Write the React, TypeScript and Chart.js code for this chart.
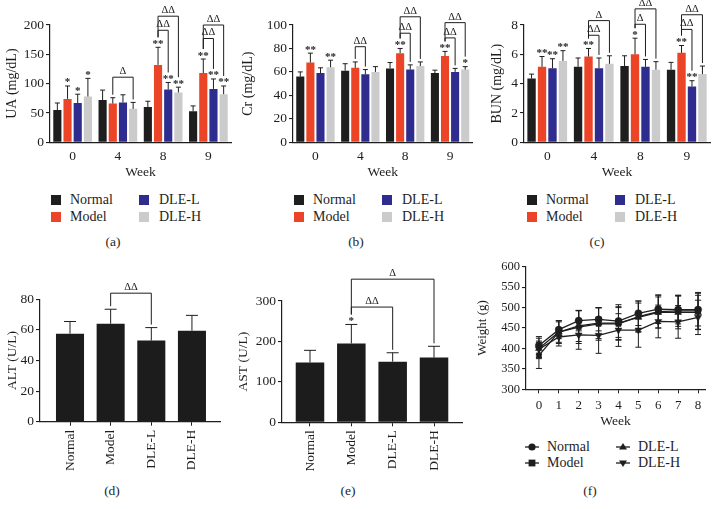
import React, { useEffect, useRef } from 'react';
import { Chart, registerables } from 'chart.js';

Chart.register(...registerables);

const FONT = '"Liberation Serif", "DejaVu Serif", "Times New Roman", serif';
const INK = '#1e1e1e';

// ---------- shared ----------
const SERIES = ['Normal', 'Model', 'DLE-L', 'DLE-H'];
const SERIES_COLORS = ['#1e1e1e', '#ec4427', '#2e2c8e', '#cbcbcb'];
const WEEK_LABELS = ['0', '4', '8', '9'];

// ---------- (a) UA ----------
const UA_NORMAL = [55, 72, 60, 53];
const UA_MODEL = [74, 66, 132, 118];
const UA_DLEL = [67, 68, 90, 91];
const UA_DLEH = [78, 57, 85, 82];
const UA_NORMAL_SD = [12, 17, 10, 9];
const UA_MODEL_SD = [22, 10, 30, 24];
const UA_DLEL_SD = [15, 13, 12, 17];
const UA_DLEH_SD = [31, 11, 9, 14];
const UA_STARS = [
  ['', '', '', ''],
  ['*', '', '**', '**'],
  ['*', '', '**', '**'],
  ['*', '', '**', '**'],
];
const UA_BRACKETS = [
  { from: [1, 1], to: [3, 1], level: 111, label: 'Δ' },
  { from: [1, 2], to: [2, 2], level: 191, label: 'ΔΔ' },
  { from: [1, 2], to: [3, 2], level: 215, label: 'ΔΔ' },
  { from: [1, 3], to: [2, 3], level: 177, label: 'ΔΔ' },
  { from: [1, 3], to: [3, 3], level: 200, label: 'ΔΔ' },
];

// ---------- (b) Cr ----------
const CR_NORMAL = [56, 61, 63, 59];
const CR_MODEL = [68, 63.5, 76, 73.5];
const CR_DLEL = [59, 58, 62, 60];
const CR_DLEH = [64, 60, 65, 62];
const CR_NORMAL_SD = [4, 6, 5, 2.5];
const CR_MODEL_SD = [8, 5, 4, 4];
const CR_DLEL_SD = [4.5, 4, 4, 3];
const CR_DLEH_SD = [6, 4.5, 3.5, 2.5];
const CR_STARS = [
  ['', '', '', ''],
  ['**', '', '**', '**'],
  ['', '', '', ''],
  ['**', '', '', '*'],
];
const CR_BRACKETS = [
  { from: [1, 1], to: [2, 1], level: 81.5, label: 'ΔΔ' },
  { from: [1, 2], to: [2, 2], level: 93, label: 'ΔΔ' },
  { from: [1, 2], to: [3, 2], level: 107, label: 'ΔΔ' },
  { from: [1, 3], to: [2, 3], level: 89, label: 'ΔΔ' },
  { from: [1, 3], to: [3, 3], level: 102, label: 'ΔΔ' },
];

// ---------- (c) BUN ----------
const BUN_NORMAL = [4.35, 5.15, 5.2, 4.95];
const BUN_MODEL = [5.15, 5.85, 6.0, 6.1];
const BUN_DLEL = [5.05, 5.05, 5.15, 3.8];
const BUN_DLEH = [5.55, 5.35, 4.95, 4.65];
const BUN_NORMAL_SD = [0.3, 0.6, 0.7, 0.5];
const BUN_MODEL_SD = [0.7, 0.55, 1.1, 0.5];
const BUN_DLEL_SD = [0.65, 0.7, 0.5, 0.4];
const BUN_DLEH_SD = [0.7, 0.55, 0.55, 0.55];
const BUN_STARS = [
  ['', '', '', ''],
  ['**', '**', '*', '**'],
  ['**', '', '', '**'],
  ['**', '', '', ''],
];
const BUN_BRACKETS = [
  { from: [1, 1], to: [2, 1], level: 7.3, label: 'ΔΔ' },
  { from: [1, 1], to: [3, 1], level: 8.3, label: 'Δ' },
  { from: [1, 2], to: [2, 2], level: 8.05, label: 'Δ' },
  { from: [1, 2], to: [3, 2], level: 9.1, label: 'ΔΔ' },
  { from: [1, 3], to: [2, 3], level: 7.7, label: 'ΔΔ' },
  { from: [1, 3], to: [3, 3], level: 8.7, label: 'ΔΔ' },
];

// ---------- (d) ALT, (e) AST ----------
const GROUP_POS = [0, 1, 2, 3];
const ALT_MEAN = [57.5, 64, 53, 59.5];
const ALT_SD = [8, 9.5, 8.5, 10];
const ALT_STARS = [['', '', '', '']];
const ALT_BRACKETS = [{ from: [0, 1], to: [0, 2], level: 84, label: 'ΔΔ' }];

const AST_MEAN = [148, 195, 150, 160];
const AST_SD = [30, 47, 22, 28];
const AST_STARS = [['', '*', '', '']];
const AST_BRACKETS = [
  { from: [0, 1], to: [0, 2], level: 285, label: 'ΔΔ' },
  { from: [0, 1], to: [0, 3], level: 354, label: 'Δ' },
];

// ---------- (f) Weight ----------
const WEEKS = [0, 1, 2, 3, 4, 5, 6, 7, 8];
const W_NORMAL = [407, 446, 468, 471, 467, 486, 496, 495, 495];
const W_MODEL = [383, 440, 452, 460, 460, 478, 490, 492, 492];
const W_DLEL = [400, 440, 455, 462, 462, 476, 488, 488, 488];
const W_DLEH = [398, 428, 433, 432, 445, 445, 466, 465, 476];
const W_NORMAL_SD = [22, 22, 25, 28, 40, 30, 35, 35, 40];
const W_MODEL_SD = [32, 28, 40, 40, 40, 38, 40, 38, 45];
const W_DLEL_SD = [25, 25, 38, 38, 40, 35, 38, 40, 42];
const W_DLEH_SD = [20, 22, 35, 44, 40, 42, 40, 40, 42];

// ---------- annotation plugin (error bars, stars, brackets) ----------
function makeAnnot(cfg: any) {
  return {
    id: 'annot',
    afterDatasetsDraw(chart: any) {
      const { ctx } = chart;
      const ys = chart.scales.y;
      const val = (di: number, i: number) => {
        const d = chart.data.datasets[di].data[i];
        return typeof d === 'number' ? d : d.y;
      };
      const el = (di: number, i: number) => chart.getDatasetMeta(di).data[i];
      const topPx = (di: number, i: number) => ys.getPixelForValue(val(di, i) + cfg.sd[di][i]);
      const hasStar = (di: number, i: number) => !!(cfg.stars && cfg.stars[di] && cfg.stars[di][i]);
      ctx.save();
      // error bars
      ctx.lineWidth = cfg.errWidth || 1;
      ctx.strokeStyle = cfg.errColor || INK;
      cfg.sd.forEach((arr: number[], di: number) => {
        arr.forEach((s: number, i: number) => {
          const e = el(di, i);
          if (!e) return;
          const x = e.x;
          const m = val(di, i);
          const t = ys.getPixelForValue(m + s);
          const b = ys.getPixelForValue(cfg.twoSided ? m - s : m);
          const c = cfg.cap / 2;
          ctx.beginPath();
          ctx.moveTo(x, b);
          ctx.lineTo(x, t);
          ctx.moveTo(x - c, t);
          ctx.lineTo(x + c, t);
          if (cfg.twoSided) {
            ctx.moveTo(x - c, b);
            ctx.lineTo(x + c, b);
          }
          ctx.stroke();
        });
      });
      // stars
      ctx.fillStyle = INK;
      ctx.textAlign = 'center';
      if (cfg.stars) {
        ctx.font = `bold ${cfg.starSize || 11}px ${FONT}`;
        ctx.textBaseline = 'alphabetic';
        cfg.stars.forEach((arr: string[], di: number) => {
          arr.forEach((s: string, i: number) => {
            if (!s) return;
            ctx.fillText(s, el(di, i).x, topPx(di, i) - 0.5);
          });
        });
      }
      // brackets
      ctx.lineWidth = 1;
      ctx.strokeStyle = INK;
      ctx.font = `${cfg.deltaSize || 10.5}px ${FONT}`;
      ctx.textBaseline = 'bottom';
      (cfg.brackets || []).forEach((br: any) => {
        const [d1, i1] = br.from;
        const [d2, i2] = br.to;
        const x1 = el(d1, i1).x;
        const x2 = el(d2, i2).x;
        const yT = ys.getPixelForValue(br.level);
        const leg = (di: number, i: number) => topPx(di, i) - (hasStar(di, i) ? 10 : 3);
        ctx.beginPath();
        ctx.moveTo(x1, leg(d1, i1));
        ctx.lineTo(x1, yT);
        ctx.lineTo(x2, yT);
        ctx.lineTo(x2, leg(d2, i2));
        ctx.stroke();
        ctx.fillText(br.label, (x1 + x2) / 2, yT - 0.5);
      });
      ctx.restore();
    },
  };
}

const tickFont = (size: number) => ({ family: FONT, size });

function yAxis(p: any) {
  return {
    min: p.min,
    max: p.max,
    ticks: { stepSize: p.step, color: INK, font: tickFont(p.tickSize || 13), padding: 2 },
    grid: { drawOnChartArea: false, drawTicks: true, tickLength: 4, color: INK, lineWidth: 1.1 },
    border: { display: true, color: INK, width: 1.2 },
    title: { display: true, text: p.title, color: INK, font: tickFont(p.titleSize || 14), padding: { top: 4, bottom: 4 } },
    afterFit: (s: any) => {
      s.width = p.width;
    },
  };
}

function groupedBarConfig(p: any) {
  return {
    type: 'bar',
    data: {
      labels: WEEK_LABELS,
      datasets: p.means.map((m: number[], k: number) => ({
        label: SERIES[k],
        data: m,
        backgroundColor: SERIES_COLORS[k],
        borderWidth: 0,
        categoryPercentage: 0.9,
        barPercentage: 0.8,
      })),
    },
    options: {
      responsive: false,
      animation: false,
      layout: { padding: { top: 25, right: p.padRight, left: 0, bottom: 0 } },
      plugins: { legend: { display: false }, tooltip: { enabled: false } },
      scales: {
        x: {
          grid: { display: false, drawTicks: false },
          border: { display: true, color: INK, width: 1.2 },
          ticks: { color: INK, font: tickFont(13.5), padding: 6 },
          title: { display: true, text: 'Week', color: INK, font: tickFont(13.5), padding: { top: 0, bottom: 4 } },
          afterFit: (s: any) => {
            s.height = 42.7;
          },
        },
        y: yAxis({ min: 0, max: p.max, step: p.step, title: p.title, width: p.yWidth, tickSize: 13.5 }),
      },
    },
    plugins: [makeAnnot({ sd: p.sds, stars: p.stars, brackets: p.brackets, cap: 5, twoSided: false, starSize: 11 })],
  };
}

function singleBarConfig(p: any) {
  return {
    type: 'bar',
    data: {
      datasets: [
        {
          data: GROUP_POS.map((x, i) => ({ x, y: p.mean[i] })),
          backgroundColor: '#1c1c1c',
          borderColor: '#111',
          borderWidth: 0,
          categoryPercentage: 1,
          barPercentage: 0.69,
        },
      ],
    },
    options: {
      responsive: false,
      animation: false,
      layout: { padding: { top: p.padTop, right: p.padRight, left: 0, bottom: 0 } },
      plugins: { legend: { display: false }, tooltip: { enabled: false } },
      scales: {
        x: {
          type: 'linear',
          offset: false,
          min: p.xMin,
          max: p.xMax,
          afterBuildTicks: (s: any) => {
            s.ticks = GROUP_POS.map((v) => ({ value: v }));
          },
          ticks: {
            autoSkip: false,
            minRotation: 90,
            maxRotation: 90,
            color: INK,
            font: tickFont(13.5),
            padding: 4,
            callback: (v: any) => SERIES[v] ?? '',
          },
          grid: { display: true, drawOnChartArea: false, drawTicks: true, tickLength: 4, color: INK, offset: false },
          border: { display: true, color: INK, width: 1.2 },
          afterFit: (s: any) => {
            s.height = p.xHeight;
          },
        },
        y: yAxis({ min: 0, max: p.max, step: p.step, title: p.title, width: p.yWidth, titleSize: 13.5, tickSize: 13.5 }),
      },
    },
    plugins: [
      makeAnnot({ sd: [p.sd], stars: p.stars, brackets: p.brackets, cap: 12, twoSided: false, starSize: 11 }),
    ],
  };
}

const W_SERIES = [
  { name: 'Normal', mean: W_NORMAL, sd: W_NORMAL_SD, style: 'circle', rot: 0, r: 3.6 },
  { name: 'Model', mean: W_MODEL, sd: W_MODEL_SD, style: 'rect', rot: 0, r: 3.6 },
  { name: 'DLE-L', mean: W_DLEL, sd: W_DLEL_SD, style: 'triangle', rot: 0, r: 4 },
  { name: 'DLE-H', mean: W_DLEH, sd: W_DLEH_SD, style: 'triangle', rot: 180, r: 4 },
];

function weightConfig() {
  return {
    type: 'line',
    data: {
      datasets: W_SERIES.map((s) => ({
        label: s.name,
        data: WEEKS.map((w, i) => ({ x: w, y: s.mean[i] })),
        borderColor: INK,
        borderWidth: 1.3,
        backgroundColor: INK,
        pointStyle: s.style,
        pointRotation: s.rot,
        pointRadius: s.r,
        pointBackgroundColor: INK,
        pointBorderColor: INK,
        pointBorderWidth: 0.5,
        tension: 0,
        fill: false,
      })),
    },
    options: {
      responsive: false,
      animation: false,
      layout: { padding: { top: 11.7, right: 7, left: 0, bottom: 0 } },
      plugins: { legend: { display: false }, tooltip: { enabled: false } },
      scales: {
        x: {
          type: 'linear',
          min: -0.65,
          max: 8.35,
          afterBuildTicks: (s: any) => {
            s.ticks = WEEKS.map((v) => ({ value: v }));
          },
          ticks: { color: INK, font: tickFont(13), padding: 4, autoSkip: false, maxRotation: 0 },
          grid: { display: true, drawOnChartArea: false, drawTicks: true, tickLength: 4, color: INK },
          border: { display: true, color: INK, width: 1.2 },
          title: { display: true, text: 'Week', color: INK, font: tickFont(13.5), padding: { top: 0, bottom: 0 } },
          afterFit: (s: any) => {
            s.height = 40.7;
          },
        },
        y: yAxis({ min: 300, max: 600, step: 50, title: 'Weight (g)', width: 55, tickSize: 12.5, titleSize: 13 }),
      },
    },
    plugins: [makeAnnot({ sd: W_SERIES.map((s) => s.sd), stars: null, brackets: [], cap: 6, twoSided: true })],
  };
}

// ---------- React pieces ----------
function ChartBox({ left, top, width, height, make }: any) {
  const ref = useRef<HTMLCanvasElement>(null);
  useEffect(() => {
    const chart = new Chart(ref.current as HTMLCanvasElement, make());
    return () => chart.destroy();
  }, []);
  return (
    <canvas
      ref={ref}
      width={width}
      height={height}
      style={{ position: 'absolute', left, top, width, height }}
    />
  );
}

const textBase: any = {
  position: 'absolute',
  whiteSpace: 'nowrap',
  fontFamily: FONT,
  color: INK,
};

function Caption({ cx, cy, text }: any) {
  return (
    <div style={{ ...textBase, left: cx - 20, top: cy - 9, width: 40, textAlign: 'center', lineHeight: '18px', fontSize: 13.5 }}>
      {text}
    </div>
  );
}

function BarLegend({ dx }: any) {
  return (
    <>
      {SERIES.map((name, k) => {
        const col = k >> 1;
        const row = k & 1;
        const cy = 199.5 + row * 17;
        return (
          <React.Fragment key={name}>
            <div
              style={{
                position: 'absolute',
                left: 51 + dx + col * 88,
                top: cy - 5,
                width: 10,
                height: 10,
                background: SERIES_COLORS[k],
              }}
            />
            <div style={{ ...textBase, left: 70 + dx + col * 89, top: cy - 9, lineHeight: '18px', fontSize: 14 }}>
              {name}
            </div>
          </React.Fragment>
        );
      })}
    </>
  );
}

function LineMarker({ kind, rot }: any) {
  let shape: any = null;
  if (kind === 'circle') shape = <circle cx={8} cy={6} r={3.6} fill={INK} />;
  else if (kind === 'rect') shape = <rect x={4.6} y={2.6} width={6.8} height={6.8} fill={INK} />;
  else if (rot === 0) shape = <polygon points="8,2 12,8.6 4,8.6" fill={INK} />;
  else shape = <polygon points="8,10 12,3.4 4,3.4" fill={INK} />;
  return (
    <svg width={16} height={12} style={{ display: 'block' }}>
      <line x1={1} y1={6} x2={15} y2={6} stroke={INK} strokeWidth={1.3} />
      {shape}
    </svg>
  );
}

function WeightLegend() {
  return (
    <>
      {W_SERIES.map((s, k) => {
        const col = k >> 1;
        const row = k & 1;
        const cx = 532 + col * 91;
        const cy = 446.7 + row * 16.6;
        return (
          <React.Fragment key={s.name}>
            <div style={{ position: 'absolute', left: cx - 8, top: cy - 6 }}>
              <LineMarker kind={s.style} rot={s.rot} />
            </div>
            <div style={{ ...textBase, left: cx + 15, top: cy - 9, lineHeight: '18px', fontSize: 14 }}>{s.name}</div>
          </React.Fragment>
        );
      })}
    </>
  );
}

export default function App() {
  return (
    <div
      style={{
        position: 'absolute',
        left: 0,
        top: 0,
        width: 712,
        height: 509,
        background: '#ffffff',
        overflow: 'hidden',
      }}
    >
      <ChartBox
        left={0}
        top={0}
        width={236}
        height={185}
        make={() =>
          groupedBarConfig({
            means: [UA_NORMAL, UA_MODEL, UA_DLEL, UA_DLEH],
            sds: [UA_NORMAL_SD, UA_MODEL_SD, UA_DLEL_SD, UA_DLEH_SD],
            stars: UA_STARS,
            brackets: UA_BRACKETS,
            max: 200,
            step: 50,
            title: 'UA (mg/dL)',
            yWidth: 50,
            padRight: 5,
          })
        }
      />
      <ChartBox
        left={236}
        top={0}
        width={244}
        height={185}
        make={() =>
          groupedBarConfig({
            means: [CR_NORMAL, CR_MODEL, CR_DLEL, CR_DLEH],
            sds: [CR_NORMAL_SD, CR_MODEL_SD, CR_DLEL_SD, CR_DLEH_SD],
            stars: CR_STARS,
            brackets: CR_BRACKETS,
            max: 100,
            step: 20,
            title: 'Cr (mg/dL)',
            yWidth: 57,
            padRight: 7.5,
          })
        }
      />
      <ChartBox
        left={485}
        top={0}
        width={227}
        height={185}
        make={() =>
          groupedBarConfig({
            means: [BUN_NORMAL, BUN_MODEL, BUN_DLEL, BUN_DLEH],
            sds: [BUN_NORMAL_SD, BUN_MODEL_SD, BUN_DLEL_SD, BUN_DLEH_SD],
            stars: BUN_STARS,
            brackets: BUN_BRACKETS,
            max: 8,
            step: 2,
            title: 'BUN (mg/dL)',
            yWidth: 39,
            padRight: 2,
          })
        }
      />
      <BarLegend dx={0} />
      <BarLegend dx={243} />
      <BarLegend dx={476} />
      <Caption cx={113} cy={241.7} text="(a)" />
      <Caption cx={356} cy={241.7} text="(b)" />
      <Caption cx={597} cy={241.7} text="(c)" />

      <ChartBox
        left={0}
        top={255}
        width={230}
        height={225}
        make={() =>
          singleBarConfig({
            mean: ALT_MEAN,
            sd: ALT_SD,
            stars: ALT_STARS,
            brackets: ALT_BRACKETS,
            max: 80,
            step: 20,
            title: 'ALT (U/L)',
            yWidth: 40,
            padTop: 44.3,
            padRight: 10,
            xHeight: 58.3,
            xMin: -0.738,
            xMax: 3.69,
          })
        }
      />
      <ChartBox
        left={231}
        top={255}
        width={235}
        height={225}
        make={() =>
          singleBarConfig({
            mean: AST_MEAN,
            sd: AST_SD,
            stars: AST_STARS,
            brackets: AST_BRACKETS,
            max: 300,
            step: 100,
            title: 'AST (U/L)',
            yWidth: 51,
            padTop: 46,
            padRight: 4,
            xHeight: 57.7,
            xMin: -0.677,
            xMax: 3.677,
          })
        }
      />
      <ChartBox left={471} top={255} width={241} height={175} make={weightConfig} />
      <WeightLegend />
      <Caption cx={112} cy={491} text="(d)" />
      <Caption cx={348} cy={491} text="(e)" />
      <Caption cx={590} cy={491} text="(f)" />
    </div>
  );
}
